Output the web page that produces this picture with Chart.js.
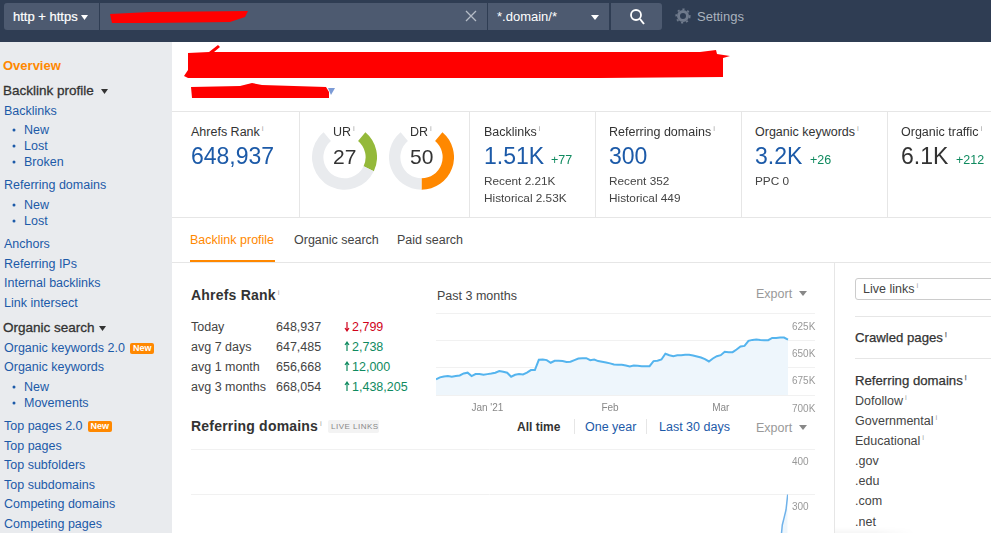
<!DOCTYPE html>
<html>
<head>
<meta charset="utf-8">
<title>Overview</title>
<script src="https://cdn.jsdelivr.net/npm/chart.js@4/dist/chart.umd.min.js"></script>
<style>
  html, body { margin: 0; width: 991px; height: 533px; overflow: hidden; background: #fff;
    font-family: "Liberation Sans", Arial, sans-serif; font-size: 12.5px; color: #444; }
  .t { position: absolute; white-space: nowrap; line-height: 16px; height: 16px; }
  .box { position: absolute; }
  canvas { position: absolute; display: block; }
  svg { position: absolute; left: 0; top: 0; }
  sup { color: #aaa; font-size: 8px; font-weight: normal; margin-left: 2px; line-height: 0; vertical-align: 5px; }
  .new { background: #ff8800; color: #fff; font-size: 9px; font-weight: bold; border-radius: 2px;
    padding: 0 3px; margin-left: 5px; line-height: 11px; display: inline-block; vertical-align: 1px; }
</style>
</head>
<body>
<div class="box" style="left:0;top:0;width:991px;height:42px;background:#2f3d53"></div>
<div class="box" style="left:4px;top:3px;width:95px;height:27px;background:#4d5a70;border-radius:3px 0 0 3px"></div>
<div class="box" style="left:100px;top:3px;width:387px;height:27px;background:#4d5a70"></div>
<div class="box" style="left:488px;top:3px;width:121px;height:27px;background:#4d5a70"></div>
<div class="box" style="left:611px;top:3px;width:51px;height:27px;background:#4d5a70;border-radius:0 3px 3px 0"></div>
<div class="box" style="left:0;top:42px;width:172px;height:491px;background:#e9ebee"></div>
<div class="box" style="left:172px;top:111px;width:819px;height:1px;background:#e6e6e6"></div>
<div class="box" style="left:172px;top:217px;width:819px;height:1px;background:#e6e6e6"></div>
<div class="box" style="left:172px;top:262px;width:819px;height:1px;background:#e6e6e6"></div>
<div class="box" style="left:299px;top:111px;width:1px;height:106px;background:#e6e6e6"></div>
<div class="box" style="left:469px;top:111px;width:1px;height:106px;background:#e6e6e6"></div>
<div class="box" style="left:595px;top:111px;width:1px;height:106px;background:#e6e6e6"></div>
<div class="box" style="left:741px;top:111px;width:1px;height:106px;background:#e6e6e6"></div>
<div class="box" style="left:887px;top:111px;width:1px;height:106px;background:#e6e6e6"></div>
<div class="box" style="left:834px;top:262px;width:1px;height:271px;background:#e6e6e6"></div>
<div class="box" style="left:190px;top:260px;width:85px;height:2px;background:#ff8800"></div>
<div class="box" style="left:855px;top:278px;width:140px;height:20px;border:1px solid #ccc;border-radius:3px"></div>
<div class="box" style="left:855px;top:316px;width:136px;height:1px;background:#e6e6e6"></div>
<div class="box" style="left:855px;top:358px;width:136px;height:1px;background:#e6e6e6"></div>
<div class="box" style="left:328px;top:420px;width:51px;height:13px;background:#f3f3f3;border-radius:2px"></div>
<div class="box" style="left:574px;top:419px;width:1px;height:15px;background:#e6e6e6"></div>
<div class="box" style="left:646px;top:419px;width:1px;height:15px;background:#e6e6e6"></div>

<svg width="991" height="533" viewBox="0 0 991 533">
  <!-- redactions -->
  <path d="M110 14 L150 12 L248 11 L245 17 L230 22 L150 23 L112 23 Z" fill="#f00"/>
  <path d="M188 53 L209 52 L218 45 L220 47 L214 52 L466 52 L640 52 L700 52 L716 50 L717 54 L730 56 L723 58 L723 77 L600 78 L400 78 L188 78 L184 76 L188 70 Z" fill="#f00"/>
  <path d="M191 87 L240 86 L252 83 L262 85 L326 87 L329 92 L329 98 L250 98 L192 98 Z" fill="#f00"/>
  <path d="M328 88 L335 88 L331 95 Z" fill="#7c9bd6"/>
  <!-- carets -->
  <path d="M81 15 L88 15 L84.500 20 Z" fill="#fff"/>
  <path d="M591 15 L599 15 L595 20 Z" fill="#fff"/>
  <path d="M101 89 L108 89 L104.500 94 Z" fill="#333"/>
  <path d="M99 326 L106 326 L102.500 331 Z" fill="#333"/>
  <path d="M799 291 L807 291 L803 296 Z" fill="#888"/>
  <path d="M799 425 L807 425 L803 430 Z" fill="#888"/>
  <!-- clear, search, settings -->
  <path d="M466 11 L476 21 M476 11 L466 21" stroke="#b5bcc7" stroke-width="1.300" fill="none"/>
  <circle cx="636" cy="15" r="5" stroke="#fff" stroke-width="1.800" fill="none"/>
  <path d="M640 19 L644 24" stroke="#fff" stroke-width="2" fill="none"/>
  <circle cx="683" cy="16" r="4.500" stroke="#6f7a8c" stroke-width="3" fill="none"/>
  <circle cx="683" cy="16" r="6.800" stroke="#6f7a8c" stroke-width="1.600" stroke-dasharray="2.200 3" fill="none"/>
  <!-- sidebar bullets -->
  <g fill="#1c5aa8">
    <circle cx="14" cy="130" r="1.500"/><circle cx="14" cy="146" r="1.500"/><circle cx="14" cy="162" r="1.500"/>
    <circle cx="14" cy="205" r="1.500"/><circle cx="14" cy="221" r="1.500"/>
    <circle cx="14" cy="387" r="1.500"/><circle cx="14" cy="403" r="1.500"/>
  </g>
  <!-- rank arrows -->
  <path d="M347 322 L347 331 M345 328 L347 331 L349 328" stroke="#d0021b" stroke-width="1.200" fill="none"/>
  <g stroke="#0f8a5f" stroke-width="1.200" fill="none">
    <path d="M347 342 L347 351 M345 345 L347 342 L349 345"/>
    <path d="M347 362 L347 371 M345 365 L347 362 L349 365"/>
    <path d="M347 382 L347 391 M345 385 L347 382 L349 385"/>
  </g>
</svg>

<canvas id="urGauge" width="65" height="58" style="left:312px;top:132px"></canvas>
<canvas id="drGauge" width="65" height="58" style="left:389px;top:132px"></canvas>
<canvas id="rankChart" width="380" height="111" style="left:436px;top:305px"></canvas>
<canvas id="domainsChart" width="625" height="200" style="left:191px;top:441px"></canvas>

<div class="box" style="left:835px;top:527px;width:80px;height:6px;background:linear-gradient(to top,rgba(0,0,0,.035),rgba(0,0,0,0));-webkit-mask-image:linear-gradient(to right,#000,#000 50%,transparent)"></div>

<div id="texts"></div>

<script>
// ── Data ──────────────────────────────────────
const urValue = 27;
const drValue = 50;
const gaugeMax = 100;

// Ahrefs Rank, one value a day, 19 Dec 2020 to 18 Mar 2021
const rankValues = [
  685700, 683900, 683000, 682700, 683300, 682700, 682100, 680300, 679600, 682700,
  680900, 680900, 681500, 680900, 680300, 679600, 678100, 678700, 679600, 683300,
  681500, 680900, 681200, 679600, 677200, 677200, 667800, 667500, 668100, 670500,
  668700, 668700, 669000, 669900, 669600, 668100, 666600, 666300, 666300, 668100,
  667500, 669000, 669600, 670200, 671100, 672100, 672400, 672400, 673000, 673900,
  673000, 673300, 673600, 673600, 673600, 669000, 668700, 667500, 662300, 663600,
  664500, 663600, 663600, 663300, 663300, 663900, 664800, 665700, 667200, 669300,
  666600, 664500, 663600, 660500, 660800, 660800, 658400, 655700, 655100, 650500,
  649600, 649300, 649700, 649900, 649900, 647800, 647800, 647500, 647500, 649400
];
const rankMonthLabels = { 13: "Jan '21", 44: 'Feb', 72: 'Mar' };
const rankTickLabels = ['625K', '650K', '675K', '700K'];

// Referring domains, days since start of the all-time axis
const domainDays = [0, 1120, 1170, 1178, 1181, 1182.6, 1186, 1190, 1193.4];
const domainValues = [0, 0, 10, 120, 215, 233, 248, 266, 300];
const domainTickLabels = ['0', '100', '200', '300', '400'];

// ── Page text: x, y (middle), text, style ─────
const BLUE = '#1c5aa8', GREEN = '#0f8a5f', RED = '#d0021b', GREY = '#999', ORANGE = '#ff8800', DARK = '#333';
const i = '<sup>i</sup>';
const newTag = '<span class="new">New</span>';
const SIDE_HEAD = `color:${DARK};font-size:13.5px;-webkit-text-stroke:.3px ${DARK}`;
const SUB = 'font-size:11.8px';
const H2 = `color:${DARK};font-size:14px;font-weight:bold;letter-spacing:.2px`;
const H3 = `color:${DARK};font-size:13.2px;-webkit-text-stroke:.25px ${DARK}`;
const texts = [
  [13, 16, 'http + https', 'color:#fff;font-size:13px;-webkit-text-stroke:.2px #fff'],
  [497, 16, '*.domain/*', 'color:#fff;font-size:13px'],
  [697, 16, 'Settings', 'color:#a9b2bd;font-size:13px'],

  [3, 65, 'Overview', `color:${ORANGE};font-size:13px;font-weight:bold`],
  [3, 90, 'Backlink profile', SIDE_HEAD],
  [4, 110, 'Backlinks', `color:${BLUE}`],
  [24, 129, 'New', `color:${BLUE}`],
  [24, 145, 'Lost', `color:${BLUE}`],
  [24, 161, 'Broken', `color:${BLUE}`],
  [4, 184, 'Referring domains', `color:${BLUE}`],
  [24, 204, 'New', `color:${BLUE}`],
  [24, 220, 'Lost', `color:${BLUE}`],
  [4, 243, 'Anchors', `color:${BLUE}`],
  [4, 263, 'Referring IPs', `color:${BLUE}`],
  [4, 282, 'Internal backlinks', `color:${BLUE}`],
  [4, 302, 'Link intersect', `color:${BLUE}`],
  [3, 327, 'Organic search', SIDE_HEAD],
  [4, 347, 'Organic keywords 2.0' + newTag, `color:${BLUE}`],
  [4, 366, 'Organic keywords', `color:${BLUE}`],
  [24, 386, 'New', `color:${BLUE}`],
  [24, 402, 'Movements', `color:${BLUE}`],
  [4, 425, 'Top pages 2.0' + newTag, `color:${BLUE}`],
  [4, 445, 'Top pages', `color:${BLUE}`],
  [4, 464, 'Top subfolders', `color:${BLUE}`],
  [4, 484, 'Top subdomains', `color:${BLUE}`],
  [4, 503, 'Competing domains', `color:${BLUE}`],
  [4, 523, 'Competing pages', `color:${BLUE}`],

  [191, 131, 'Ahrefs Rank' + i, `color:${DARK}`],
  [191, 155, '648,937', `color:${BLUE};font-size:23px`],
  [333, 131, 'UR' + i, `color:${DARK}`],
  [410, 131, 'DR' + i, `color:${DARK}`],
  [333, 156, '27', `color:${DARK};font-size:21px`],
  [410, 156, '50', `color:${DARK};font-size:21px`],
  [484, 131, 'Backlinks' + i, `color:${DARK}`],
  [484, 155, '1.51K', `color:${BLUE};font-size:23px`],
  [551, 159, '+77', `color:${GREEN}`],
  [484, 180, 'Recent 2.21K', SUB],
  [484, 197, 'Historical 2.53K', SUB],
  [609, 131, 'Referring domains' + i, `color:${DARK}`],
  [609, 155, '300', `color:${BLUE};font-size:23px`],
  [609, 180, 'Recent 352', SUB],
  [609, 197, 'Historical 449', SUB],
  [755, 131, 'Organic keywords' + i, `color:${DARK}`],
  [755, 155, '3.2K', `color:${BLUE};font-size:23px`],
  [810, 159, '+26', `color:${GREEN}`],
  [755, 180, 'PPC 0', SUB],
  [901, 131, 'Organic traffic' + i, `color:${DARK}`],
  [901, 155, '6.1K', `color:${DARK};font-size:23px`],
  [956, 159, '+212', `color:${GREEN}`],

  [190, 239, 'Backlink profile', `color:${ORANGE}`],
  [294, 239, 'Organic search', ''],
  [397, 239, 'Paid search', ''],

  [191, 294, 'Ahrefs Rank' + i, H2],
  [437, 295, 'Past 3 months', ''],
  [756, 293, 'Export', `color:${GREY}`],
  [191, 326, 'Today', ''], [276, 326, '648,937', ''], [352, 326, '2,799', `color:${RED}`],
  [191, 346, 'avg 7 days', ''], [276, 346, '647,485', ''], [352, 346, '2,738', `color:${GREEN}`],
  [191, 366, 'avg 1 month', ''], [276, 366, '656,668', ''], [352, 366, '12,000', `color:${GREEN}`],
  [191, 386, 'avg 3 months', ''], [276, 386, '668,054', ''], [352, 386, '1,438,205', `color:${GREEN}`],

  [191, 425, 'Referring domains' + i, H2],
  [331, 426, 'LIVE LINKS', 'color:#888;font-size:8px;letter-spacing:.5px'],
  [517, 426, 'All time', `color:${DARK};font-weight:bold;font-size:12px`],
  [585, 426, 'One year', `color:${BLUE}`],
  [659, 426, 'Last 30 days', `color:${BLUE}`],
  [756, 427, 'Export', `color:${GREY}`],

  [863, 288, 'Live links' + i, ''],
  [855, 337, 'Crawled pages' + i, H3],
  [855, 380, 'Referring domains' + i, H3],
  [855, 400, 'Dofollow' + i, ''],
  [855, 420, 'Governmental' + i, ''],
  [855, 440, 'Educational' + i, ''],
  [855, 460, '.gov', ''],
  [855, 480, '.edu', ''],
  [855, 500, '.com', ''],
  [855, 521, '.net', '']
];

const holder = document.getElementById('texts');
texts.forEach(([x, y, text, style]) => {
  const el = document.createElement('div');
  el.className = 't';
  el.style.cssText = `left:${x}px;top:${y - 7}px;${style}`;
  el.innerHTML = text;
  holder.appendChild(el);
});

// ── Gauges ────────────────────────────────────
function createGauge(canvasId, value, color) {
  return new Chart(document.getElementById(canvasId), {
    type: 'doughnut',
    data: {
      datasets: [{
        data: [value, gaugeMax - value],
        backgroundColor: [color, '#e9ebee'],
        borderWidth: 0
      }]
    },
    options: {
      responsive: false,
      animation: false,
      rotation: 40,
      circumference: 280,
      cutout: '65%',
      events: [],
      plugins: { legend: { display: false }, tooltip: { enabled: false } }
    }
  });
}

createGauge('urGauge', urValue, '#94b93a');
createGauge('drGauge', drValue, '#ff8800');

// ── Shared right-hand axis ────────────────────
function rightAxis(min, max, stepSize, labelOffset, tickLabel) {
  return {
    position: 'right',
    min,
    max,
    border: { display: false },
    grid: { color: '#f1f1f1', tickLength: 27, tickColor: '#f1f1f1' },
    afterFit: (scale) => { scale.width = 28; },
    ticks: {
      stepSize,
      padding: -23,
      labelOffset,
      color: '#999',
      font: { size: 10, family: 'Liberation Sans' },
      callback: tickLabel
    }
  };
}

// ── Ahrefs Rank line ──────────────────────────
new Chart(document.getElementById('rankChart'), {
  type: 'line',
  data: {
    labels: rankValues.map((v, idx) => rankMonthLabels[idx] || ''),
    datasets: [{
      data: rankValues,
      borderColor: '#54b4ee',
      borderWidth: 2,
      backgroundColor: '#eef6fc',
      fill: { value: 700000 },
      pointRadius: 0,
      tension: 0
    }]
  },
  options: {
    responsive: false,
    animation: false,
    events: [],
    layout: { padding: { top: 8 } },
    plugins: { legend: { display: false }, tooltip: { enabled: false } },
    scales: {
      x: {
        border: { display: false },
        grid: { display: false, drawTicks: false },
        afterFit: (scale) => {
          scale.height = 21;
          scale.paddingLeft = 0;
          scale.paddingRight = 0;
        },
        ticks: {
          autoSkip: false,
          maxRotation: 0,
          padding: 7,
          color: '#888',
          font: { size: 10, family: 'Liberation Sans' }
        }
      },
      y: {
        ...rightAxis(625000, 700000, 25000, 14, (v) => rankTickLabels[(v - 625000) / 25000]),
        reverse: true
      }
    }
  }
});

// ── Referring domains line ────────────────────
new Chart(document.getElementById('domainsChart'), {
  type: 'line',
  data: {
    datasets: [{
      data: domainDays.map((x, idx) => ({ x, y: domainValues[idx] })),
      borderColor: '#6fb2ea',
      borderWidth: 1.5,
      backgroundColor: '#eef6fc',
      fill: 'origin',
      pointRadius: 0,
      tension: 0
    }]
  },
  options: {
    responsive: false,
    animation: false,
    events: [],
    layout: { padding: { top: 8, bottom: 10 } },
    plugins: { legend: { display: false }, tooltip: { enabled: false } },
    scales: {
      x: { type: 'linear', display: false, min: 0, max: 1194 },
      y: rightAxis(0, 400, 100, 13, (v) => domainTickLabels[v / 100])
    }
  }
});
</script>
</body>
</html>
